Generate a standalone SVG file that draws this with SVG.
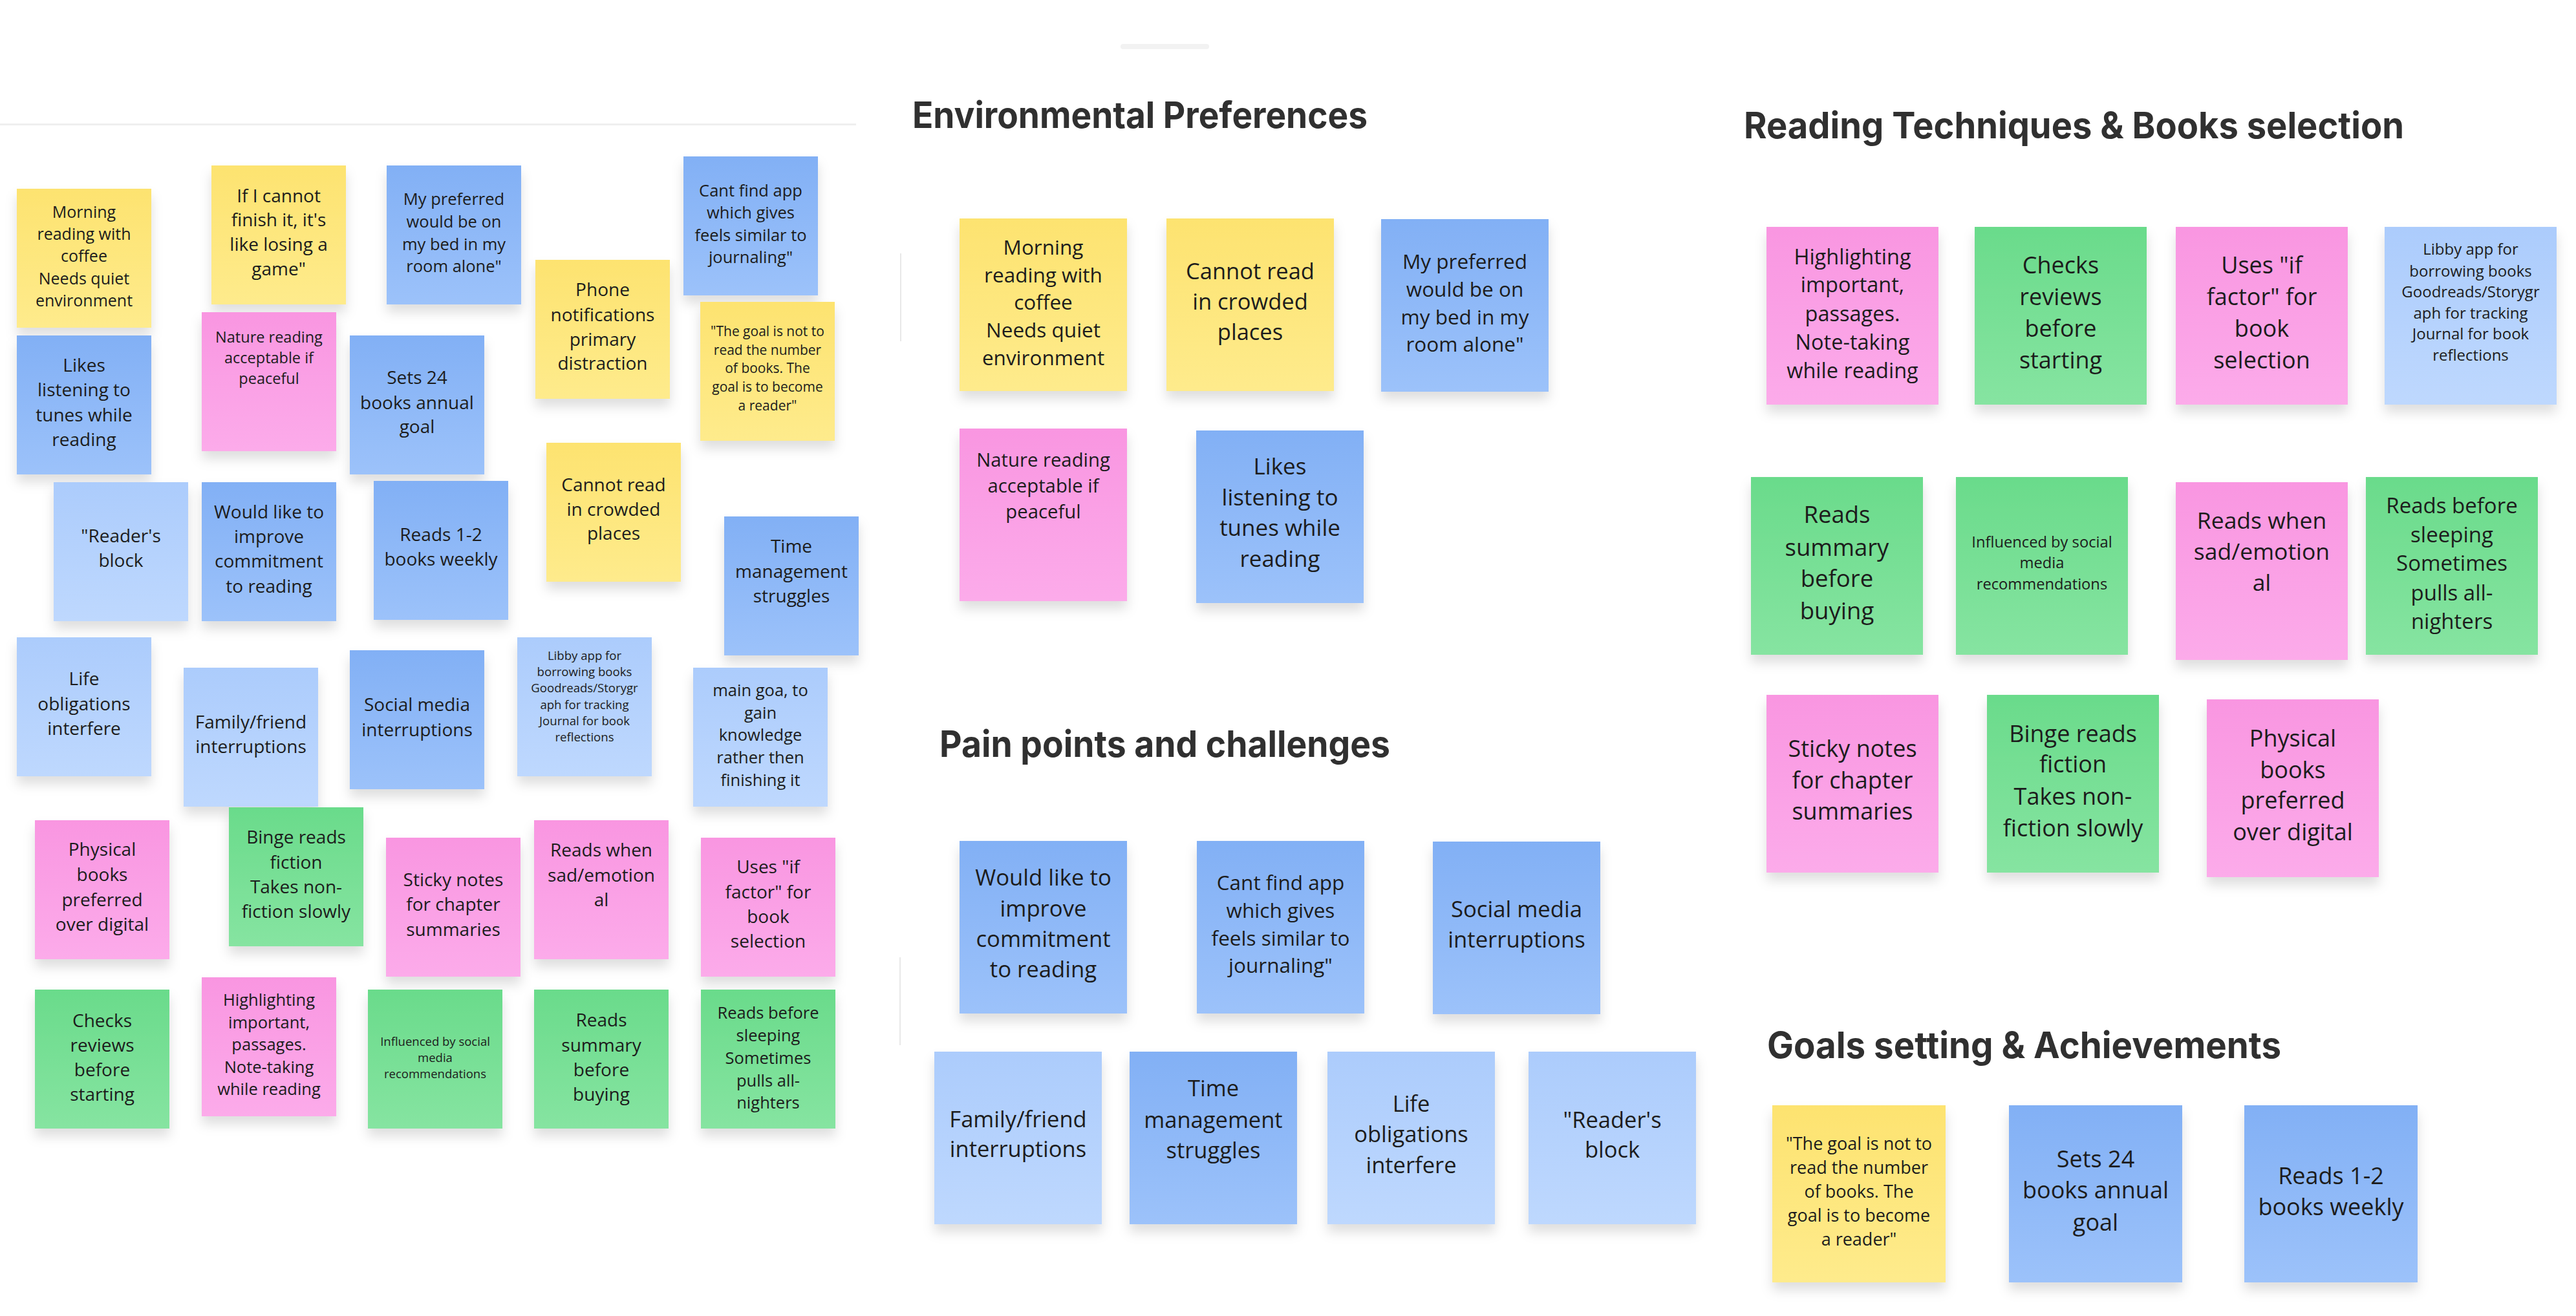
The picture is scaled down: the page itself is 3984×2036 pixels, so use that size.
<svg xmlns="http://www.w3.org/2000/svg" width="3984" height="2036" viewBox="0 0 3984 2036">
<defs>
<linearGradient id="gy" x1="0" y1="0" x2="0" y2="1"><stop offset="0" stop-color="#FDE370"/><stop offset="1" stop-color="#FEEB8C"/></linearGradient>
<linearGradient id="gb" x1="0" y1="0" x2="0" y2="1"><stop offset="0" stop-color="#82B0F5"/><stop offset="1" stop-color="#9CC2FA"/></linearGradient>
<linearGradient id="gl" x1="0" y1="0" x2="0" y2="1"><stop offset="0" stop-color="#ACCCFC"/><stop offset="1" stop-color="#BED8FE"/></linearGradient>
<linearGradient id="gp" x1="0" y1="0" x2="0" y2="1"><stop offset="0" stop-color="#F996E1"/><stop offset="1" stop-color="#FCABEA"/></linearGradient>
<linearGradient id="gg" x1="0" y1="0" x2="0" y2="1"><stop offset="0" stop-color="#6ADB8B"/><stop offset="1" stop-color="#86E4A1"/></linearGradient>
<filter id="sh" x="-20%" y="-20%" width="140%" height="150%"><feDropShadow dx="0" dy="12" stdDeviation="9" flood-color="#000" flood-opacity="0.13"/></filter>
<style>
.n{filter:url(#sh)}
.y{fill:url(#gy)}.b{fill:url(#gb)}.l{fill:url(#gl)}.p{fill:url(#gp)}.g{fill:url(#gg)}
text.t{font-family:'Open Sans','Noto Sans',sans-serif;fill:#1c1c1c;text-anchor:middle}
text.h{font-family:Inter,'Noto Sans',sans-serif;font-weight:700;fill:#303030;font-size:56px}
</style>
</defs>
<rect width="3984" height="2036" fill="#ffffff"/>
<g id="decor">
<rect x="1733" y="68" width="137" height="8" rx="4" fill="#f2f2f2"/>
<rect x="0" y="191" width="1324" height="3" fill="#efefef"/>
<rect x="1392" y="392" width="2" height="136" fill="#e8e8e8"/>
<rect x="1391" y="1481" width="2" height="136" fill="#e8e8e8"/>
</g>
<g id="titles">
<text id="title-env" class="h" x="1411" y="198" textLength="704" lengthAdjust="spacingAndGlyphs">Environmental Preferences</text>
<text id="title-read" class="h" x="2697" y="214" textLength="1021" lengthAdjust="spacingAndGlyphs">Reading Techniques &amp; Books selection</text>
<text id="title-pain" class="h" x="1453" y="1171" textLength="697" lengthAdjust="spacingAndGlyphs">Pain points and challenges</text>
<text id="title-goals" class="h" x="2733" y="1637" textLength="795" lengthAdjust="spacingAndGlyphs">Goals setting &amp; Achievements</text>
</g>
<g id="connectors"></g>

<!-- left cluster -->
<g id="L1"><rect class="n y" x="26" y="292" width="208" height="215"/><text class="t" font-size="25"><tspan x="130" y="337">Morning</tspan><tspan x="130" y="371">reading with</tspan><tspan x="130" y="405">coffee</tspan><tspan x="130" y="440">Needs quiet</tspan><tspan x="130" y="474">environment</tspan></text></g>
<g id="L2"><rect class="n y" x="327" y="256" width="208" height="215"/><text class="t" font-size="28"><tspan x="431" y="313">If I cannot</tspan><tspan x="431" y="350">finish it, it's</tspan><tspan x="431" y="388">like losing a</tspan><tspan x="431" y="426">game"</tspan></text></g>
<g id="L3"><rect class="n b" x="598" y="256" width="208" height="215"/><text class="t" font-size="25.5"><tspan x="702" y="317">My preferred</tspan><tspan x="702" y="352">would be on</tspan><tspan x="702" y="387">my bed in my</tspan><tspan x="702" y="421">room alone"</tspan></text></g>
<g id="L4"><rect class="n y" x="828" y="402" width="208" height="215"/><text class="t" font-size="28"><tspan x="932" y="458">Phone</tspan><tspan x="932" y="497">notifications</tspan><tspan x="932" y="535">primary</tspan><tspan x="932" y="572">distraction</tspan></text></g>
<g id="L5"><rect class="n b" x="1057" y="242" width="208" height="215"/><text class="t" font-size="25.5"><tspan x="1161" y="304">Cant find app</tspan><tspan x="1161" y="338">which gives</tspan><tspan x="1161" y="373">feels similar to</tspan><tspan x="1161" y="407">journaling"</tspan></text></g>
<g id="L6"><rect class="n y" x="1083" y="467" width="208" height="215"/><text class="t" font-size="21"><tspan x="1187" y="520">"The goal is not to</tspan><tspan x="1187" y="549">read the number</tspan><tspan x="1187" y="577">of books. The</tspan><tspan x="1187" y="606">goal is to become</tspan><tspan x="1187" y="635">a reader"</tspan></text></g>
<g id="L7"><rect class="n p" x="312" y="483" width="208" height="215"/><text class="t" font-size="23.5"><tspan x="416" y="530">Nature reading</tspan><tspan x="416" y="562">acceptable if</tspan><tspan x="416" y="594">peaceful</tspan></text></g>
<g id="L8"><rect class="n b" x="26" y="519" width="208" height="215"/><text class="t" font-size="28"><tspan x="130" y="575">Likes</tspan><tspan x="130" y="613">listening to</tspan><tspan x="130" y="652">tunes while</tspan><tspan x="130" y="690">reading</tspan></text></g>
<g id="L9"><rect class="n b" x="541" y="519" width="208" height="215"/><text class="t" font-size="28"><tspan x="645" y="594">Sets 24</tspan><tspan x="645" y="633">books annual</tspan><tspan x="645" y="670">goal</tspan></text></g>
<g id="L10"><rect class="n y" x="845" y="685" width="208" height="215"/><text class="t" font-size="28"><tspan x="949" y="760">Cannot read</tspan><tspan x="949" y="798">in crowded</tspan><tspan x="949" y="835">places</tspan></text></g>
<g id="L11"><rect class="n l" x="83" y="746" width="208" height="215"/><text class="t" font-size="28"><tspan x="187" y="839">"Reader's</tspan><tspan x="187" y="877">block</tspan></text></g>
<g id="L12"><rect class="n b" x="312" y="746" width="208" height="215"/><text class="t" font-size="28"><tspan x="416" y="802">Would like to</tspan><tspan x="416" y="840">improve</tspan><tspan x="416" y="878">commitment</tspan><tspan x="416" y="917">to reading</tspan></text></g>
<g id="L13"><rect class="n b" x="578" y="744" width="208" height="215"/><text class="t" font-size="28"><tspan x="682" y="837">Reads 1-2</tspan><tspan x="682" y="875">books weekly</tspan></text></g>
<g id="L14"><rect class="n b" x="1120" y="799" width="208" height="215"/><text class="t" font-size="28"><tspan x="1224" y="855">Time</tspan><tspan x="1224" y="894">management</tspan><tspan x="1224" y="932">struggles</tspan></text></g>
<g id="L15"><rect class="n l" x="26" y="986" width="208" height="215"/><text class="t" font-size="28"><tspan x="130" y="1060">Life</tspan><tspan x="130" y="1099">obligations</tspan><tspan x="130" y="1137">interfere</tspan></text></g>
<g id="L16"><rect class="n l" x="284" y="1033" width="208" height="215"/><text class="t" font-size="28"><tspan x="388" y="1127">Family/friend</tspan><tspan x="388" y="1165">interruptions</tspan></text></g>
<g id="L17"><rect class="n b" x="541" y="1006" width="208" height="215"/><text class="t" font-size="28"><tspan x="645" y="1100">Social media</tspan><tspan x="645" y="1139">interruptions</tspan></text></g>
<g id="L18"><rect class="n l" x="800" y="986" width="208" height="215"/><text class="t" font-size="18.6"><tspan x="904" y="1021">Libby app for</tspan><tspan x="904" y="1046">borrowing books</tspan><tspan x="904" y="1071">Goodreads/Storygr</tspan><tspan x="904" y="1097">aph for tracking</tspan><tspan x="904" y="1122">Journal for book</tspan><tspan x="904" y="1147">reflections</tspan></text></g>
<g id="L19"><rect class="n l" x="1072" y="1033" width="208" height="215"/><text class="t" font-size="25.5"><tspan x="1176" y="1077">main goa, to</tspan><tspan x="1176" y="1112">gain</tspan><tspan x="1176" y="1146">knowledge</tspan><tspan x="1176" y="1181">rather then</tspan><tspan x="1176" y="1216">finishing it</tspan></text></g>
<g id="L20"><rect class="n p" x="54" y="1269" width="208" height="215"/><text class="t" font-size="28"><tspan x="158" y="1324">Physical</tspan><tspan x="158" y="1363">books</tspan><tspan x="158" y="1402">preferred</tspan><tspan x="158" y="1440">over digital</tspan></text></g>
<g id="L21"><rect class="n g" x="354" y="1249" width="208" height="215"/><text class="t" font-size="28"><tspan x="458" y="1305">Binge reads</tspan><tspan x="458" y="1344">fiction</tspan><tspan x="458" y="1382">Takes non-</tspan><tspan x="458" y="1420">fiction slowly</tspan></text></g>
<g id="L22"><rect class="n p" x="597" y="1296" width="208" height="215"/><text class="t" font-size="28"><tspan x="701" y="1371">Sticky notes</tspan><tspan x="701" y="1409">for chapter</tspan><tspan x="701" y="1448">summaries</tspan></text></g>
<g id="L23"><rect class="n p" x="826" y="1269" width="208" height="215"/><text class="t" font-size="28"><tspan x="930" y="1325">Reads when</tspan><tspan x="930" y="1364">sad/emotion</tspan><tspan x="930" y="1402">al</tspan></text></g>
<g id="L24"><rect class="n p" x="1084" y="1296" width="208" height="215"/><text class="t" font-size="28"><tspan x="1188" y="1351">Uses "if</tspan><tspan x="1188" y="1390">factor" for</tspan><tspan x="1188" y="1428">book</tspan><tspan x="1188" y="1466">selection</tspan></text></g>
<g id="L25"><rect class="n g" x="54" y="1531" width="208" height="215"/><text class="t" font-size="28"><tspan x="158" y="1589">Checks</tspan><tspan x="158" y="1627">reviews</tspan><tspan x="158" y="1665">before</tspan><tspan x="158" y="1703">starting</tspan></text></g>
<g id="L26"><rect class="n p" x="312" y="1512" width="208" height="215"/><text class="t" font-size="25.5"><tspan x="416" y="1556">Highlighting</tspan><tspan x="416" y="1591">important,</tspan><tspan x="416" y="1625">passages.</tspan><tspan x="416" y="1660">Note-taking</tspan><tspan x="416" y="1694">while reading</tspan></text></g>
<g id="L27"><rect class="n g" x="569" y="1531" width="208" height="215"/><text class="t" font-size="18.5"><tspan x="673" y="1618">Influenced by social</tspan><tspan x="673" y="1643">media</tspan><tspan x="673" y="1668">recommendations</tspan></text></g>
<g id="L28"><rect class="n g" x="826" y="1531" width="208" height="215"/><text class="t" font-size="28"><tspan x="930" y="1588">Reads</tspan><tspan x="930" y="1627">summary</tspan><tspan x="930" y="1665">before</tspan><tspan x="930" y="1703">buying</tspan></text></g>
<g id="L29"><rect class="n g" x="1084" y="1531" width="208" height="215"/><text class="t" font-size="25.5"><tspan x="1188" y="1576">Reads before</tspan><tspan x="1188" y="1611">sleeping</tspan><tspan x="1188" y="1646">Sometimes</tspan><tspan x="1188" y="1681">pulls all-</tspan><tspan x="1188" y="1715">nighters</tspan></text></g>

<!-- Environmental Preferences -->
<g id="E1"><rect class="n y" x="1484" y="338" width="259" height="267"/><text class="t" font-size="31.5"><tspan x="1613.5" y="394">Morning</tspan><tspan x="1613.5" y="437">reading with</tspan><tspan x="1613.5" y="479">coffee</tspan><tspan x="1613.5" y="522">Needs quiet</tspan><tspan x="1613.5" y="565">environment</tspan></text></g>
<g id="E2"><rect class="n y" x="1804" y="338" width="259" height="267"/><text class="t" font-size="34.5"><tspan x="1933.5" y="432">Cannot read</tspan><tspan x="1933.5" y="479">in crowded</tspan><tspan x="1933.5" y="526">places</tspan></text></g>
<g id="E3"><rect class="n b" x="2136" y="339" width="259" height="267"/><text class="t" font-size="31.5"><tspan x="2265.5" y="416">My preferred</tspan><tspan x="2265.5" y="459">would be on</tspan><tspan x="2265.5" y="502">my bed in my</tspan><tspan x="2265.5" y="544">room alone"</tspan></text></g>
<g id="E4"><rect class="n p" x="1484" y="663" width="259" height="267"/><text class="t" font-size="29.3"><tspan x="1613.5" y="722">Nature reading</tspan><tspan x="1613.5" y="762">acceptable if</tspan><tspan x="1613.5" y="802">peaceful</tspan></text></g>
<g id="E5"><rect class="n b" x="1850" y="666" width="259" height="267"/><text class="t" font-size="35"><tspan x="1979.5" y="734">Likes</tspan><tspan x="1979.5" y="782">listening to</tspan><tspan x="1979.5" y="829">tunes while</tspan><tspan x="1979.5" y="877">reading</tspan></text></g>

<!-- Pain points -->
<g id="P1"><rect class="n b" x="1484" y="1301" width="259" height="267"/><text class="t" font-size="34.7"><tspan x="1613.5" y="1370">Would like to</tspan><tspan x="1613.5" y="1418">improve</tspan><tspan x="1613.5" y="1465">commitment</tspan><tspan x="1613.5" y="1512">to reading</tspan></text></g>
<g id="P2"><rect class="n b" x="1851" y="1301" width="259" height="267"/><text class="t" font-size="31.5"><tspan x="1980.5" y="1377">Cant find app</tspan><tspan x="1980.5" y="1420">which gives</tspan><tspan x="1980.5" y="1463">feels similar to</tspan><tspan x="1980.5" y="1505">journaling"</tspan></text></g>
<g id="P3"><rect class="n b" x="2216" y="1302" width="259" height="267"/><text class="t" font-size="34.7"><tspan x="2345.5" y="1419">Social media</tspan><tspan x="2345.5" y="1466">interruptions</tspan></text></g>
<g id="P4"><rect class="n l" x="1445" y="1627" width="259" height="267"/><text class="t" font-size="34.5"><tspan x="1574.5" y="1744">Family/friend</tspan><tspan x="1574.5" y="1790">interruptions</tspan></text></g>
<g id="P5"><rect class="n b" x="1747" y="1627" width="259" height="267"/><text class="t" font-size="34.5"><tspan x="1876.5" y="1696">Time</tspan><tspan x="1876.5" y="1745">management</tspan><tspan x="1876.5" y="1792">struggles</tspan></text></g>
<g id="P6"><rect class="n l" x="2053" y="1627" width="259" height="267"/><text class="t" font-size="34.5"><tspan x="2182.5" y="1720">Life</tspan><tspan x="2182.5" y="1767">obligations</tspan><tspan x="2182.5" y="1815">interfere</tspan></text></g>
<g id="P7"><rect class="n l" x="2364" y="1627" width="259" height="267"/><text class="t" font-size="34.5"><tspan x="2493.5" y="1745">"Reader's</tspan><tspan x="2493.5" y="1791">block</tspan></text></g>

<!-- Reading Techniques & Books selection -->
<g id="R1"><rect class="n p" x="2732" y="351" width="266" height="275"/><text class="t" font-size="32.5"><tspan x="2865" y="409">Highlighting</tspan><tspan x="2865" y="452">important,</tspan><tspan x="2865" y="497">passages.</tspan><tspan x="2865" y="541">Note-taking</tspan><tspan x="2865" y="585">while reading</tspan></text></g>
<g id="R2"><rect class="n g" x="3054" y="351" width="266" height="275"/><text class="t" font-size="36"><tspan x="3187" y="423">Checks</tspan><tspan x="3187" y="472">reviews</tspan><tspan x="3187" y="521">before</tspan><tspan x="3187" y="570">starting</tspan></text></g>
<g id="R3"><rect class="n p" x="3365" y="351" width="266" height="275"/><text class="t" font-size="36"><tspan x="3498" y="423">Uses "if</tspan><tspan x="3498" y="472">factor" for</tspan><tspan x="3498" y="521">book</tspan><tspan x="3498" y="570">selection</tspan></text></g>
<g id="R4"><rect class="n l" x="3688" y="351" width="266" height="275"/><text class="t" font-size="24"><tspan x="3821" y="394">Libby app for</tspan><tspan x="3821" y="428">borrowing books</tspan><tspan x="3821" y="460">Goodreads/Storygr</tspan><tspan x="3821" y="493">aph for tracking</tspan><tspan x="3821" y="525">Journal for book</tspan><tspan x="3821" y="558">reflections</tspan></text></g>
<g id="R5"><rect class="n g" x="2708" y="738" width="266" height="275"/><text class="t" font-size="36.5"><tspan x="2841" y="809">Reads</tspan><tspan x="2841" y="860">summary</tspan><tspan x="2841" y="908">before</tspan><tspan x="2841" y="958">buying</tspan></text></g>
<g id="R6"><rect class="n g" x="3025" y="738" width="266" height="275"/><text class="t" font-size="23.7"><tspan x="3158" y="847">Influenced by social</tspan><tspan x="3158" y="879">media</tspan><tspan x="3158" y="912">recommendations</tspan></text></g>
<g id="R7"><rect class="n p" x="3365" y="746" width="266" height="275"/><text class="t" font-size="35.5"><tspan x="3498" y="818">Reads when</tspan><tspan x="3498" y="866">sad/emotion</tspan><tspan x="3498" y="914">al</tspan></text></g>
<g id="R8"><rect class="n g" x="3659" y="738" width="266" height="275"/><text class="t" font-size="33"><tspan x="3792" y="794">Reads before</tspan><tspan x="3792" y="839">sleeping</tspan><tspan x="3792" y="883">Sometimes</tspan><tspan x="3792" y="929">pulls all-</tspan><tspan x="3792" y="973">nighters</tspan></text></g>
<g id="R9"><rect class="n p" x="2732" y="1075" width="266" height="275"/><text class="t" font-size="36"><tspan x="2865" y="1171">Sticky notes</tspan><tspan x="2865" y="1220">for chapter</tspan><tspan x="2865" y="1268">summaries</tspan></text></g>
<g id="R10"><rect class="n g" x="3073" y="1075" width="266" height="275"/><text class="t" font-size="36"><tspan x="3206" y="1148">Binge reads</tspan><tspan x="3206" y="1195">fiction</tspan><tspan x="3206" y="1245">Takes non-</tspan><tspan x="3206" y="1294">fiction slowly</tspan></text></g>
<g id="R11"><rect class="n p" x="3413" y="1082" width="266" height="275"/><text class="t" font-size="36"><tspan x="3546" y="1155">Physical</tspan><tspan x="3546" y="1204">books</tspan><tspan x="3546" y="1251">preferred</tspan><tspan x="3546" y="1300">over digital</tspan></text></g>

<!-- Goals -->
<g id="G1"><rect class="n y" x="2741" y="1710" width="268" height="274"/><text class="t" font-size="27"><tspan x="2875" y="1779">"The goal is not to</tspan><tspan x="2875" y="1816">read the number</tspan><tspan x="2875" y="1853">of books. The</tspan><tspan x="2875" y="1890">goal is to become</tspan><tspan x="2875" y="1927">a reader"</tspan></text></g>
<g id="G2"><rect class="n b" x="3107" y="1710" width="268" height="274"/><text class="t" font-size="36"><tspan x="3241" y="1806">Sets 24</tspan><tspan x="3241" y="1854">books annual</tspan><tspan x="3241" y="1904">goal</tspan></text></g>
<g id="G3"><rect class="n b" x="3471" y="1710" width="268" height="274"/><text class="t" font-size="36"><tspan x="3605" y="1832">Reads 1-2</tspan><tspan x="3605" y="1880">books weekly</tspan></text></g>
</svg>
